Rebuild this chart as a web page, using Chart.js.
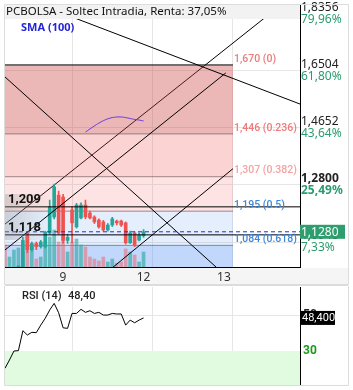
<!DOCTYPE html>
<html>
<head>
<meta charset="utf-8">
<script src="https://cdn.jsdelivr.net/npm/chart.js@4.4.1/dist/chart.umd.min.js"></script>
<style>
  body { margin: 0; background: #fff; }
  #wrap { position: relative; width: 353px; height: 390px; }
  #main { position: absolute; left: 0; top: 0; }
  #rsi { position: absolute; left: 0; top: 286px; }
</style>
</head>
<body>
<div id="wrap">
  <canvas id="main" width="353" height="286"></canvas>
  <canvas id="rsi" width="353" height="104"></canvas>
</div>
<script>
const title = "PCBOLSA - Soltec Intradia, Renta: 37,05%";

// x axis: one slot per intraday bar
const days = ["9", "12", "13"];
const dayGrid = [15, 33, 51];

// candles, index 0..31
const opens  = [0.995, 0.990, 0.995, 1.000, 1.003, 1.124, 1.070, 1.090, 1.080, 1.079, 1.124, 1.176, 1.247, 1.241, 1.100, 1.199,
                1.144, 1.173, 1.215, 1.189, 1.176, 1.166, 1.160, 1.134, 1.150, 1.163, 1.163, 1.157, 1.092, 1.124, 1.101, 1.115];
const highs  = [1.000, 1.000, 1.005, 1.008, 1.110, 1.128, 1.095, 1.095, 1.100, 1.130, 1.231, 1.283, 1.260, 1.250, 1.120, 1.210,
                1.220, 1.222, 1.231, 1.195, 1.180, 1.170, 1.165, 1.155, 1.175, 1.166, 1.166, 1.160, 1.130, 1.128, 1.125, 1.135];
const lows   = [0.980, 0.980, 0.990, 0.995, 1.000, 1.060, 1.065, 1.070, 1.075, 1.075, 1.120, 1.170, 1.120, 1.090, 1.090, 1.092,
                1.140, 1.170, 1.170, 1.170, 1.155, 1.140, 1.130, 1.130, 1.145, 1.150, 1.145, 1.088, 1.090, 1.080, 1.098, 1.110];
const closes = [0.985, 0.995, 1.000, 1.003, 1.100, 1.070, 1.090, 1.080, 1.095, 1.127, 1.209, 1.274, 1.124, 1.100, 1.110, 1.157,
                1.215, 1.215, 1.176, 1.173, 1.160, 1.144, 1.134, 1.150, 1.170, 1.157, 1.150, 1.092, 1.124, 1.085, 1.118, 1.128];
const volumes = [22, 10, 17, 19, 15, 30, 20, 8, 10, 25, 30, 37, 25, 30, 15, 25,
                 28, 22, 20, 10, 8, 6, 10, 5, 8, 4, 5, 18, 15, 12, 5, 15];

const smaStart = 18;
const sma = [1.452, 1.462, 1.472, 1.481, 1.489, 1.495, 1.499, 1.501, 1.501, 1.499, 1.496, 1.493, 1.491, 1.488];

const rsi = [20.4, 25.0, 30.0, 30.2, 41.3, 38.9, 40.4, 40.2, 44.4, 48.2, 52.8, 56.5, 51.3, 42.9, 42.6, 50.9,
             50.9, 53.2, 51.5, 52.4, 50.9, 51.5, 50.0, 50.0, 50.9, 50.6, 50.6, 44.4, 47.2, 45.7, 47.2, 48.4];
const rsiLast = "48,40";
const rsiBox = "48,400";

// fibonacci retracement
const fibLevels = [1.670, 1.446, 1.307, 1.195, 1.084];
const fibRatios = ["0", "0.236", "0.382", "0.5", "0.618"];
const fibEnd = 51;

// horizontal levels and last price
const levels = [1.209, 1.118];
const lastPrice = 1.128;

// right axis
const priceTicks = [1.0948, 1.28, 1.4652, 1.6504, 1.8356];
const pctTicks = ["7,33%", "25,49%", "43,64%", "61,80%", "79,96%"];

// trend lines [index, price]
const lineUpper = [[0, 1.153], [62, 1.868]];
const lineMid = [[0, 1.069], [49.4, 1.644]];
const lineLow = [[23.5, 1.005], [51, 1.333]];
const lineDownA = [[7.4, 1.868], [66, 1.543]];
const lineDownB = [[0, 1.631], [48.1, 1.002]];

const GREEN = "#26a69a";
const RED = "#ef5350";
const FONT = "'Noto Sans', Roboto, sans-serif";
const fmt = (v, n) => v.toFixed(n).replace(".", ",");
const pts = (arr) => arr.map(p => ({ x: p[0], y: p[1] }));
const noPad = s => { s.paddingTop = 0; s.paddingBottom = 0; s.paddingLeft = 0; s.paddingRight = 0; };

const zoneColors = ["rgba(200,60,60,0.37)", "rgba(240,80,80,0.25)", "rgba(240,80,80,0.16)",
                    "rgba(66,133,244,0.14)", "rgba(66,133,244,0.33)"];
const fibText = ["#ee7b7b", "#ee7b7b", "#f4a3a3", "#3d86dd", "#3d86dd"];

const up = opens.map((o, i) => closes[i] >= o);

const datasets = [];

fibLevels.forEach((v, k) => {
  datasets.push({
    type: "line",
    data: [{ x: 0, y: v }, { x: fibEnd, y: v }],
    borderColor: k === 0 ? "#000" : "rgba(60,60,60,0.55)",
    borderWidth: 1,
    pointRadius: 0,
    fill: k < fibLevels.length - 1 ? "+1" : "start",
    backgroundColor: zoneColors[k],
    order: 10
  });
});

const trend = (d, ord, col) => ({
  type: "line", data: pts(d), borderColor: col || "#000", borderWidth: 1,
  pointRadius: 0, fill: false, order: ord
});
datasets.push(trend(lineUpper, 11));
datasets.push(trend(lineMid, 2));
datasets.push(trend(lineLow, 2));
datasets.push(trend(lineDownA, 2));
datasets.push(trend(lineDownB, 2));

levels.forEach(v => {
  datasets.push({
    type: "line", data: [{ x: 0, y: v }, { x: 66, y: v }],
    borderColor: "#000", borderWidth: 1, pointRadius: 0, fill: false, order: 2
  });
});

datasets.push({
  type: "line", data: [{ x: 0, y: lastPrice }, { x: 66, y: lastPrice }],
  borderColor: "#1f2fe0", borderWidth: 1, borderDash: [4, 3], pointRadius: 0, fill: false, order: 1
});

datasets.push({
  type: "bar", yAxisID: "yv",
  data: volumes.map((v, i) => ({ x: i, y: v })),
  backgroundColor: up.map(u => u ? "rgba(38,166,154,0.6)" : "rgba(239,83,80,0.45)"),
  barThickness: 3, grouped: false, order: 6
});

datasets.push({
  type: "bar",
  data: opens.map((o, i) => ({ x: i, y: [lows[i], highs[i]] })),
  backgroundColor: up.map(u => u ? GREEN : RED),
  barThickness: 1, grouped: false, order: 4
});

datasets.push({
  type: "bar",
  data: opens.map((o, i) => ({ x: i, y: [o, closes[i]] })),
  backgroundColor: up.map(u => u ? GREEN : RED),
  barThickness: 3, grouped: false, minBarLength: 1, order: 3
});

datasets.push({
  type: "line",
  data: sma.map((v, k) => ({ x: smaStart + k, y: v })),
  borderColor: "#6a3ddb", borderWidth: 1, pointRadius: 0, fill: false, tension: 0.4, order: 2
});

const overlay = {
  id: "overlay",
  beforeDraw(chart) {
    const ctx = chart.ctx;
    ctx.save();
    ctx.fillStyle = "#f5f5f5";
    ctx.fillRect(5, 268, 343, 16);
    ctx.fillStyle = "#dcdcdc";
    ctx.fillRect(5, 284, 343, 2);
    ctx.restore();
  },
  afterDatasetsDraw(chart) {
    const { ctx, chartArea: a, scales: { x, y } } = chart;
    ctx.save();
    // faded label backdrop on the left
    const g = ctx.createLinearGradient(a.left, 0, a.left + 44, 0);
    g.addColorStop(0, "rgba(150,150,150,0.35)");
    g.addColorStop(1, "rgba(150,150,150,0)");
    ctx.fillStyle = g;
    ctx.fillRect(a.left, 194, 44, 46);

    ctx.fillStyle = "#f2f2f2";
    ctx.fillRect(a.left, 4, a.right - a.left, 15);
    ctx.textBaseline = "middle";
    ctx.font = "11.5px " + FONT;
    ctx.fillStyle = "#111";
    ctx.fillText(title, 6, 12);

    ctx.font = "bold 11px " + FONT;
    ctx.fillStyle = "#2424d8";
    ctx.fillText("SMA (100)", 21, 28);

    ctx.font = "500 10.5px Roboto";
    const fx = x.getPixelForValue(fibEnd) + 1;
    fibLevels.forEach((v, k) => {
      ctx.fillStyle = fibText[k];
      ctx.fillText(fmt(v, 3) + " (" + fibRatios[k] + ")", fx, y.getPixelForValue(v) - 6);
    });

    ctx.font = "bold 13px Roboto";
    ctx.fillStyle = "#111";
    levels.forEach(v => ctx.fillText(fmt(v, 3), 8, y.getPixelForValue(v) - 7));
    ctx.restore();
  },
  afterDraw(chart) {
    const { ctx, chartArea: a, scales: { y } } = chart;
    ctx.save();
    ctx.textBaseline = "middle";
    priceTicks.forEach((v, k) => {
      const py = y.getPixelForValue(v);
      ctx.font = (v === 1.28 ? "bold " : "") + "12px " + FONT;
      ctx.fillStyle = "#2a9d6f";
      ctx.fillText(pctTicks[k], a.right + 1, py + 6);
    });
    const ly = y.getPixelForValue(lastPrice);
    ctx.fillStyle = "#2e9e6e";
    ctx.fillRect(a.right, ly - 7, 45, 14);
    ctx.fillStyle = "#fff";
    ctx.font = "12px " + FONT;
    ctx.fillText(fmt(lastPrice, 4), a.right + 1, ly + 0.5);

    ctx.strokeStyle = "#dcdcdc";
    ctx.lineWidth = 1;
    ctx.beginPath();
    ctx.moveTo(4.5, 285); ctx.lineTo(4.5, 4.5); ctx.lineTo(348.5, 4.5); ctx.lineTo(348.5, 285);
    ctx.stroke();
    ctx.restore();
  }
};

new Chart(document.getElementById("main"), {
  data: { datasets },
  options: {
    responsive: false,
    animation: false,
    layout: { padding: { left: 5, top: 4, right: 0, bottom: 0 } },
    plugins: { legend: { display: false }, tooltip: { enabled: false } },
    scales: {
      x: {
        type: "linear", min: 0, max: 66, offset: false,
        afterBuildTicks: s => { s.ticks = dayGrid.map(v => ({ value: v })); },
        afterFit: s => { s.height = 19; noPad(s); },
        ticks: {
          callback: (v, i) => days[i], autoSkip: false, maxRotation: 0,
          labelOffset: -9, padding: 3, color: "#333", font: { size: 12, family: FONT }
        },
        grid: { color: "#e6e6e6", drawTicks: false, offset: false },
        border: { color: "#000" }
      },
      y: {
        position: "right", min: 1.0136, max: 1.868,
        afterBuildTicks: s => { s.ticks = priceTicks.map(v => ({ value: v })); },
        afterFit: s => { s.width = 53; noPad(s); },
        ticks: {
          callback: v => fmt(v, 4), labelOffset: -6, padding: 1, color: "#222",
          font: c => ({ size: 12, family: FONT, weight: c.tick && c.tick.value === 1.28 ? "bold" : "normal" })
        },
        grid: { color: "#e6e6e6", drawTicks: false },
        border: { color: "#000" }
      },
      yv: { display: false, min: 0, max: 263 }
    }
  },
  plugins: [overlay]
});

const rsiOverlay = {
  id: "rsiOverlay",
  afterDraw(chart) {
    const { ctx, chartArea: a, scales: { y } } = chart;
    ctx.save();
    ctx.textBaseline = "middle";
    ctx.font = "500 11px Roboto";
    ctx.fillStyle = "#222";
    ctx.fillText("RSI (14)", 22, 10);
    ctx.fillText(rsiLast, 68, 10);
    const py = y.getPixelForValue(rsi[rsi.length - 1]);
    ctx.fillStyle = "#000";
    ctx.fillRect(a.right, py - 7, 35, 14);
    ctx.fillStyle = "#fff";
    ctx.font = "11px Roboto";
    ctx.fillText(rsiBox, a.right + 2, py + 0.5);
    ctx.strokeStyle = "#dcdcdc";
    ctx.beginPath();
    ctx.moveTo(4.5, 0); ctx.lineTo(4.5, a.bottom + 0.5); ctx.lineTo(348.5, a.bottom + 0.5); ctx.lineTo(348.5, 0);
    ctx.stroke();
    ctx.restore();
  }
};

new Chart(document.getElementById("rsi"), {
  data: {
    datasets: [
      {
        type: "line", data: rsi.map((v, i) => ({ x: i, y: v })),
        borderColor: "#000", borderWidth: 1, pointRadius: 0, fill: false, order: 1
      },
      {
        type: "line", data: [{ x: 0, y: 30 }, { x: 66, y: 30 }],
        borderColor: "rgba(0,0,0,0)", backgroundColor: "#e0fbe0", pointRadius: 0, fill: "start", order: 5
      }
    ]
  },
  options: {
    responsive: false,
    animation: false,
    layout: { padding: { left: 5, top: 1, right: 0, bottom: 5 } },
    plugins: { legend: { display: false }, tooltip: { enabled: false } },
    scales: {
      x: {
        type: "linear", min: 0, max: 66, offset: false,
        afterBuildTicks: s => { s.ticks = dayGrid.map(v => ({ value: v })); },
        afterFit: s => { s.height = 0; noPad(s); },
        ticks: { display: false },
        grid: { color: "#e6e6e6", drawTicks: false },
        border: { display: false }
      },
      y: {
        position: "right", min: 11.1, max: 65.6,
        afterBuildTicks: s => { s.ticks = [30, 50].map(v => ({ value: v })); },
        afterFit: s => { s.width = 53; noPad(s); },
        ticks: {
          padding: 3,
          color: c => c.tick && c.tick.value === 30 ? "#1a9a1a" : "#222",
          font: { size: 12, family: "Roboto", weight: "bold" }
        },
        grid: { color: "#e6e6e6", drawTicks: false },
        border: { color: "#000" }
      }
    }
  },
  plugins: [rsiOverlay]
});
</script>
</body>
</html>
